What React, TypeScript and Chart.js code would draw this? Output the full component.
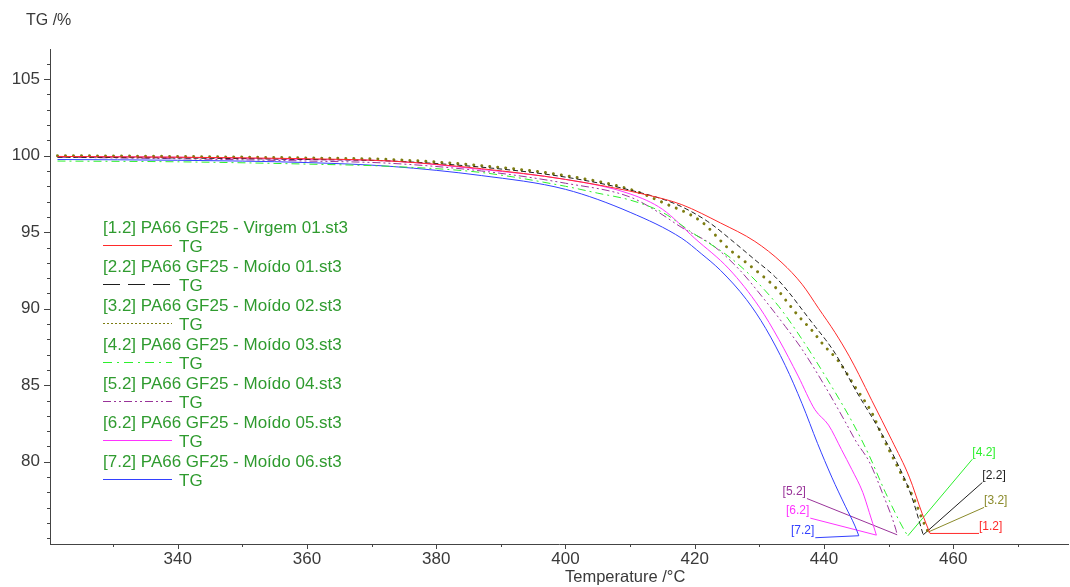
import React, { useEffect, useRef } from 'react';
import { Chart, registerables } from 'chart.js';

Chart.register(...registerables);

// ---------- data ----------
const seriesNames = [
  '[1.2] PA66 GF25 - Virgem 01.st3',
  '[2.2] PA66 GF25 - Moído 01.st3',
  '[3.2] PA66 GF25 - Moído 02.st3',
  '[4.2] PA66 GF25 - Moído 03.st3',
  '[5.2] PA66 GF25 - Moído 04.st3',
  '[6.2] PA66 GF25 - Moído 05.st3',
  '[7.2] PA66 GF25 - Moído 06.st3',
];
const seriesTags = ['[1.2]', '[2.2]', '[3.2]', '[4.2]', '[5.2]', '[6.2]', '[7.2]'];
const curveName = 'TG';

const tRed = [321.4, 340, 360, 373, 387, 400, 413, 418, 424, 429.3, 433.5, 436.6, 439.2, 441.7, 443.9, 445.4, 447.4, 450.5, 453.2, 455.2, 456.4];
const tgRed = [99.95, 99.9, 99.8, 99.65, 99.15, 98.45, 97.4, 96.8, 95.6, 94.4, 93.0, 91.6, 90.0, 88.45, 86.9, 85.7, 84.0, 81.4, 79.0, 76.6, 75.32];

const tBlack = [321.4, 340, 360, 373, 387, 400, 410, 417, 422, 426.2, 429.3, 432.4, 434.6, 436.6, 438.6, 440.2, 441.7, 442.8, 445, 448, 451, 453.5, 455.35];
const tgBlack = [99.9, 99.85, 99.75, 99.65, 99.25, 98.6, 97.75, 96.85, 95.7, 94.3, 93.2, 92.1, 91.05, 89.95, 88.85, 88.0, 87.1, 86.3, 84.6, 82.5, 80.2, 77.8, 75.23];

const tOlive = [321.4, 340, 360, 373, 387, 400, 410, 415.3, 421, 425.3, 428, 430.9, 432.7, 434, 436.1, 438.1, 440, 442.2, 444.8, 447.4, 449, 451.6, 454.1, 455.2, 456.12];
const tgOlive = [100.0, 99.95, 99.85, 99.75, 99.35, 98.7, 97.8, 96.9, 95.7, 93.9, 93.0, 92.0, 91.3, 90.6, 89.5, 88.6, 87.6, 86.6, 84.9, 83.2, 81.7, 79.5, 77.4, 76.25, 75.41];

const tGreen = [321.4, 340, 360, 373, 387, 400, 405, 410, 415, 419.5, 425.3, 428.8, 433, 436.6, 440.2, 444.5, 447, 449.5, 452.6, 452.98];
const tgGreen = [99.65, 99.6, 99.45, 99.3, 98.9, 98.0, 97.55, 97.1, 96.3, 95.0, 93.4, 92.1, 90.15, 88.0, 85.6, 82.5, 80.4, 78.0, 75.4, 75.17];

const tPurple = [321.4, 340, 360, 373, 387, 400, 410, 414.4, 418, 422.6, 426.8, 430.4, 434, 436.6, 440.2, 443.3, 445, 447, 449, 451.1, 451.32];
const tgPurple = [99.9, 99.8, 99.65, 99.5, 99.0, 98.2, 97.3, 96.3, 95.3, 94.2, 92.6, 90.8, 88.85, 87.35, 84.9, 82.6, 81.3, 80.0, 78.0, 75.6, 75.23];

const tPink = [321.4, 340, 360, 373, 387, 400, 410, 415, 420, 425.3, 430, 433, 436, 438.6, 440.7, 442.7, 444.3, 446, 447, 448.1];
const tgPink = [99.95, 99.9, 99.75, 99.65, 99.1, 98.45, 97.5, 96.5, 94.6, 92.6, 90.1, 88.0, 85.6, 83.4, 82.4, 80.8, 79.5, 78.0, 76.7, 75.21];

const tBlue = [321.4, 340, 360, 373, 387, 400, 410, 418, 421, 424, 428, 431, 434, 436.6, 439, 441.2, 443.3, 444.8, 445.38];
const tgBlue = [99.75, 99.7, 99.55, 99.3, 98.7, 97.8, 96.3, 94.6, 93.6, 92.5, 90.6, 88.7, 86.3, 83.8, 81.2, 79.0, 77.1, 75.8, 75.17];

// label anchor (end of each leader line), in data units
const labelT = [463.98, 464.5, 464.76, 462.95, 437.36, 437.88, 438.65];
const labelTG = [75.32, 78.65, 77.02, 80.17, 77.6, 76.32, 75.04];

// axes
const xMin = 320.24;
const xMax = 477.75;
const yMin = 74.63;
const yMax = 106.97;
const xTickLabels = [340, 360, 380, 400, 420, 440, 460];
const yTickLabels = [80, 85, 90, 95, 100, 105];
const xMinorStep = 10;
const yMinorStep = 1;
const xTitle = 'Temperature /°C';
const yTitle = 'TG /%';

// ---------- styles ----------
const FONT = '"Liberation Sans", Arial, sans-serif';
const lineColors = ['#ff2a2a', '#1e1e1e', '#7d7d12', '#2cf02c', '#993399', '#ff33ff', '#3340ff'];
const lineWidths = [1, 1, 3, 1, 1, 1, 1];
const lineDashes = [[], [5, 3], [0.01, 8], [8, 4, 2, 4], [8, 3, 2, 3, 2, 3], [], []];
const lineCaps = ['butt', 'butt', 'round', 'butt', 'butt', 'butt', 'butt'];
const legendDashes = [[69, 0], [17, 8], [2, 2], [9, 5, 2, 5], [8, 3, 2, 3, 2, 3], [69, 0], [69, 0]];
const labelColors = ['#ff2a2a', '#1e1e1e', '#8a8a2a', '#2cf02c', '#993399', '#ff33ff', '#3340ff'];

export default function App() {
  const ref = useRef<HTMLCanvasElement>(null);

  useEffect(() => {
    const temps = [tRed, tBlack, tOlive, tGreen, tPurple, tPink, tBlue];
    const vals = [tgRed, tgBlack, tgOlive, tgGreen, tgPurple, tgPink, tgBlue];

    const curveSets = temps.map((t, i) => ({
      label: seriesNames[i],
      data: t.map((x, j) => ({ x, y: vals[i][j] })),
      borderColor: lineColors[i],
      borderWidth: lineWidths[i],
      borderDash: lineDashes[i].slice(),
      borderCapStyle: lineCaps[i],
      pointRadius: 0,
      cubicInterpolationMode: 'monotone',
      fill: false,
    }));
    const leaderSets = temps.map((t, i) => ({
      label: seriesTags[i],
      data: [
        { x: t[t.length - 1], y: vals[i][vals[i].length - 1] },
        { x: labelT[i], y: labelTG[i] },
      ],
      borderColor: labelColors[i],
      borderWidth: 1,
      pointRadius: 0,
      tension: 0,
      fill: false,
    }));

    const decorPlugin = {
      id: 'decor',
      afterDraw(chart: any) {
        const ctx: CanvasRenderingContext2D = chart.ctx;
        const xs = chart.scales.x;
        const ys = chart.scales.y;
        const area = chart.chartArea;
        ctx.save();
        ctx.setLineDash([]);
        ctx.fillStyle = '#444';
        // tick marks
        for (let v = Math.ceil(xMin / xMinorStep) * xMinorStep; v <= xMax; v += xMinorStep) {
          const px = Math.round(xs.getPixelForValue(v));
          const major = xTickLabels.includes(v);
          ctx.fillRect(px, Math.round(area.bottom), 1, major ? 5 : 3);
        }
        for (let v = Math.ceil(yMin / yMinorStep) * yMinorStep; v <= yMax; v += yMinorStep) {
          const py = Math.round(ys.getPixelForValue(v));
          const major = yTickLabels.includes(v);
          const len = major ? 6 : 3;
          ctx.fillRect(Math.round(area.left) - len, py, len, 1);
        }
        // axis titles
        ctx.fillStyle = '#3a3a3a';
        ctx.font = `16px ${FONT}`;
        ctx.textAlign = 'left';
        ctx.textBaseline = 'alphabetic';
        ctx.fillText(yTitle, 26, 25);
        ctx.font = `16.5px ${FONT}`;
        ctx.fillText(xTitle, 565, 582);

        // legend
        for (let i = 0; i < seriesNames.length; i++) {
          const base = 233 + 39 * i;
          ctx.fillStyle = '#2f9b2f';
          ctx.font = `17px ${FONT}`;
          ctx.textAlign = 'left';
          ctx.fillText(seriesNames[i], 103, base);
          ctx.fillText(curveName, 179, base + 19);
          // sample line, drawn as small filled segments
          ctx.fillStyle = lineColors[i];
          const pat = legendDashes[i];
          let x = 103;
          let k = 0;
          const yLine = base + 12;
          while (x < 172) {
            const len = pat[k % pat.length];
            if (k % 2 === 0) ctx.fillRect(x, yLine, Math.min(len, 172 - x), 1);
            x += len;
            k++;
          }
        }

        // leader labels
        ctx.font = `12px ${FONT}`;
        ctx.textBaseline = 'bottom';
        for (let i = 0; i < seriesTags.length; i++) {
          const t = temps[i];
          const endT = t[t.length - 1];
          const px = xs.getPixelForValue(labelT[i]);
          const py = ys.getPixelForValue(labelTG[i]);
          const right = labelT[i] > endT;
          ctx.fillStyle = labelColors[i];
          ctx.textAlign = right ? 'left' : 'right';
          ctx.fillText(seriesTags[i], right ? px : px - 1, py - 1);
        }
        ctx.restore();
      },
    };

    const chart = new Chart(ref.current as HTMLCanvasElement, {
      type: 'line',
      data: { datasets: [...curveSets, ...leaderSets] as any },
      options: {
        animation: false,
        responsive: false,
        devicePixelRatio: 1,
        layout: { padding: { top: 49, right: 2, left: 0, bottom: 0 } },
        plugins: { legend: { display: false }, tooltip: { enabled: false } },
        scales: {
          x: {
            type: 'linear',
            min: xMin,
            max: xMax,
            afterBuildTicks: (s: any) => {
              s.ticks = xTickLabels.map((v) => ({ value: v }));
            },
            afterFit: (s: any) => {
              s.height = 43;
            },
            ticks: {
              autoSkip: false,
              maxRotation: 0,
              padding: 5,
              color: '#3a3a3a',
              font: { family: FONT, size: 17 },
              callback: (v: any) => String(v),
            },
            grid: { display: false, drawTicks: false },
            border: { display: true, color: '#444', width: 1 },
          },
          y: {
            type: 'linear',
            min: yMin,
            max: yMax,
            afterBuildTicks: (s: any) => {
              s.ticks = yTickLabels.map((v) => ({ value: v }));
            },
            afterFit: (s: any) => {
              s.width = 50;
            },
            ticks: {
              autoSkip: false,
              padding: 10,
              color: '#3a3a3a',
              font: { family: FONT, size: 17 },
              callback: (v: any) => String(v),
            },
            grid: { display: false, drawTicks: false },
            border: { display: true, color: '#444', width: 1 },
          },
        },
      },
      plugins: [decorPlugin],
    } as any);

    return () => chart.destroy();
  }, []);

  return (
    <div style={{ position: 'fixed', left: 0, top: 0, width: 1070, height: 587, background: '#fff' }}>
      <canvas ref={ref} width={1070} height={587} style={{ display: 'block', width: 1070, height: 587 }} />
    </div>
  );
}
